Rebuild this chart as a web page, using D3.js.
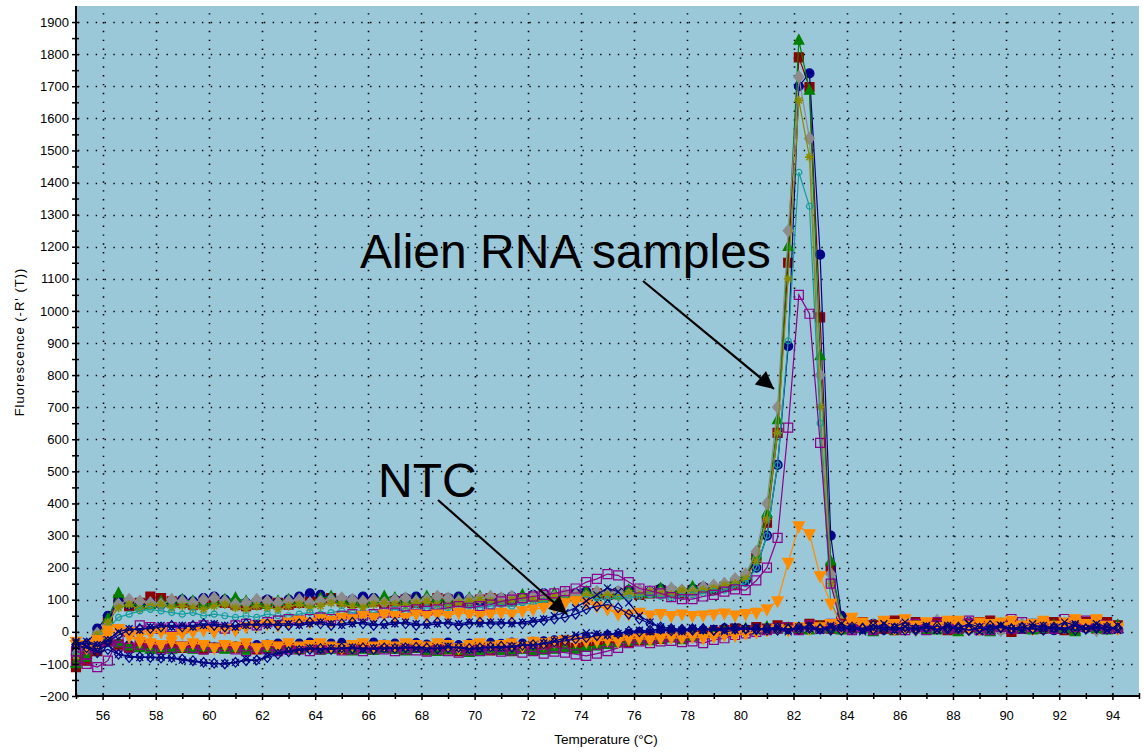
<!DOCTYPE html>
<html>
<head>
<meta charset="utf-8">
<script src="https://cdn.jsdelivr.net/npm/d3@7"></script>
<style>
  html, body { margin: 0; padding: 0; background: #fff; }
  svg { display: block; font-family: "Liberation Sans", Arial, sans-serif; }
</style>
</head>
<body>
<svg id="chart" width="1144" height="752"></svg>
<script>
// melt temperatures (°C), one reading every 0.4 degree
const temps = [
  55.0,55.4,55.8,56.2,56.6,57.0,57.4,57.8,58.2,58.6,
  59.0,59.4,59.8,60.2,60.6,61.0,61.4,61.8,62.2,62.6,
  63.0,63.4,63.8,64.2,64.6,65.0,65.4,65.8,66.2,66.6,
  67.0,67.4,67.8,68.2,68.6,69.0,69.4,69.8,70.2,70.6,
  71.0,71.4,71.8,72.2,72.6,73.0,73.4,73.8,74.2,74.6,
  75.0,75.4,75.8,76.2,76.6,77.0,77.4,77.8,78.2,78.6,
  79.0,79.4,79.8,80.2,80.6,81.0,81.4,81.8,82.2,82.6,
  83.0,83.4,83.8,84.2,84.6,85.0,85.4,85.8,86.2,86.6,
  87.0,87.4,87.8,88.2,88.6,89.0,89.4,89.8,90.2,90.6,
  91.0,91.4,91.8,92.2,92.6,93.0,93.4,93.8,94.2
];

// Alien RNA samples
const sampleRed = [
  -85,-60,-15,30,100,80,90,110,105,95,
  90,85,95,100,90,85,80,85,95,90,
  85,90,95,100,105,95,90,100,95,90,
  95,100,90,95,105,100,95,90,100,105,
  100,95,105,110,100,105,110,115,110,120,
  115,120,125,115,120,130,125,120,130,135,
  130,140,150,170,230,340,620,1150,1790,1697,
  980,200,40,15,20,10,25,5,15,30,
  10,20,5,25,15,30,10,20,0,15,
  25,10,20,5,15,30,10,20,15
];
const sampleNavy = [
  -60,-40,10,50,95,85,80,90,85,90,
  100,95,105,110,100,95,90,95,100,90,
  100,110,120,115,105,95,100,110,105,95,
  100,105,110,100,95,105,110,100,95,100,
  105,110,100,115,120,110,115,120,125,115,
  120,125,130,120,125,135,130,125,135,140,
  135,145,155,160,200,300,520,890,1700,1740,
  1175,300,50,20,10,25,15,5,20,10,
  25,15,10,20,30,5,15,25,10,20,
  15,25,5,20,10,15,30,10,20
];
const sampleGreen = [
  -95,-70,-25,40,120,90,80,85,95,90,
  100,95,85,90,100,105,95,90,85,95,
  100,95,90,105,110,100,95,90,100,110,
  105,95,100,110,105,95,100,105,110,100,
  95,105,115,110,105,120,115,110,125,120,
  125,115,130,125,120,135,130,125,140,135,
  140,150,160,175,240,370,660,1200,1843,1687,
  860,220,35,10,20,5,15,25,10,20,
  15,5,25,10,20,15,0,25,15,10,
  20,10,25,15,5,20,10,25,15
];
const sampleGray = [
  -70,-40,-5,20,85,100,95,90,85,100,
  95,90,100,105,95,85,90,100,95,90,
  95,100,90,95,100,105,100,95,100,90,
  100,105,95,100,110,105,95,100,105,110,
  105,110,100,110,115,110,120,115,110,125,
  120,125,115,130,125,120,135,130,125,140,
  145,150,165,180,250,400,700,1250,1729,1537,
  800,180,30,15,10,20,25,10,15,5,
  20,35,10,15,25,10,20,5,15,25,
  10,20,15,25,10,15,5,20,10
];
const sampleOlive = [
  -75,-50,-10,30,75,85,70,80,85,75,
  80,75,70,80,85,75,70,80,75,70,
  80,85,75,80,90,85,80,75,85,90,
  85,80,90,95,85,80,90,95,100,95,
  90,100,105,100,95,110,105,100,115,110,
  115,110,120,115,125,120,115,130,125,130,
  135,145,150,165,220,350,620,1100,1656,1479,
  700,150,30,10,15,25,10,20,15,5,
  10,25,15,20,5,15,25,10,20,15,
  5,20,10,15,25,10,20,15,10
];
const sampleTeal = [
  -70,-50,-20,10,45,55,65,70,65,60,
  55,60,50,55,50,45,50,45,55,50,
  50,55,60,55,60,65,60,55,60,65,
  70,65,70,75,70,75,70,80,75,80,
  85,80,90,85,95,90,100,95,100,105,
  100,110,105,110,115,110,105,110,115,120,
  125,130,140,150,200,300,520,907,1432,1326,
  650,91,25,10,15,5,20,10,15,25,
  10,15,5,20,10,25,15,10,20,5,
  15,10,20,5,15,10,25,15,10
];
const samplePurple = [
  -90,-100,-110,-90,-20,0,20,15,10,15,
  10,15,20,15,10,20,25,20,30,35,
  40,35,40,45,40,50,55,50,55,60,
  60,65,70,65,70,75,80,75,80,85,
  95,100,105,110,115,120,127,135,155,165,
  180,176,155,135,128,120,108,102,102,110,
  115,125,132,130,160,200,293,636,1050,991,
  589,150,20,10,15,5,25,10,20,15,
  5,20,15,10,25,15,5,20,10,30,
  15,20,10,25,15,35,20,10,15
];

// NTC and other low traces
const ntcOrange = [
  -30,-40,-25,5,10,0,-10,-5,0,-15,
  -5,0,5,0,10,5,15,20,25,20,
  30,35,30,40,35,45,40,50,45,55,
  50,45,55,50,55,50,60,55,50,55,
  60,55,65,70,75,80,90,96,90,80,
  71,55,55,60,52,56,50,55,50,52,
  55,58,52,56,60,71,96,216,330,305,
  174,88,20,45,30,15,25,10,40,20,
  30,15,35,20,10,30,25,15,35,20,
  10,25,15,30,40,20,35,15,10
];
const ntcCross = [
  -35,-30,-40,-25,0,10,5,15,20,15,
  20,15,20,25,20,15,20,25,20,25,
  25,20,25,30,25,20,25,30,25,20,
  25,30,25,20,25,30,25,30,25,30,
  30,25,30,35,40,50,60,75,96,115,
  137,125,90,50,30,15,10,5,12,5,
  10,5,15,10,5,10,15,5,10,20,
  5,15,25,10,5,20,10,15,30,10,
  15,5,20,10,25,15,5,20,10,15,
  25,10,15,30,20,10,25,15,5
];
const ntcDiamond = [
  -40,-35,-45,-30,-10,5,10,10,15,20,
  15,20,25,20,15,20,25,20,25,20,
  20,25,30,25,20,25,30,25,20,25,
  30,25,20,25,30,25,20,25,30,25,
  25,30,25,30,35,40,45,55,70,80,
  85,75,55,40,25,15,10,8,5,10,
  5,10,12,8,10,5,12,8,15,10,
  8,12,5,15,10,8,15,12,5,10,
  12,8,15,10,5,12,8,15,10,12,
  8,15,10,12,5,10,15,8,12
];
const lowCross = [
  -30,-45,-60,-40,-70,-75,-80,-78,-80,-82,
  -88,-92,-97,-100,-98,-95,-85,-90,-75,-65,
  -60,-55,-50,-55,-50,-52,-48,-55,-50,-52,
  -50,-48,-52,-55,-50,-45,-50,-55,-52,-48,
  -50,-45,-40,-42,-35,-28,-20,-10,-3,-5,
  -10,-5,0,5,0,10,5,0,10,5,
  10,0,5,10,15,5,10,0,15,10,
  5,20,10,15,0,10,25,5,15,10,
  20,5,15,10,25,0,15,20,10,5,
  15,20,10,5,25,10,15,5,20
];
const lowDiamond = [
  -40,-50,-65,-55,-70,-80,-78,-80,-82,-80,
  -85,-90,-95,-98,-100,-95,-90,-88,-80,-70,
  -62,-58,-55,-52,-55,-50,-53,-50,-55,-50,
  -52,-50,-48,-50,-53,-50,-48,-52,-50,-47,
  -45,-48,-42,-40,-38,-32,-28,-22,-18,-12,
  -8,-5,2,0,5,8,3,6,10,8,
  5,12,8,10,6,12,5,10,8,15,
  10,5,15,8,12,20,6,10,15,5,
  12,18,8,15,5,10,20,12,8,15,
  10,5,15,12,18,8,10,15,12
];
const lowNavy = [
  -50,-60,-40,-25,-35,-40,-45,-50,-42,-45,
  -50,-45,-42,-48,-50,-44,-46,-40,-38,-35,
  -38,-35,-32,-38,-35,-33,-40,-36,-32,-38,
  -35,-40,-33,-38,-36,-32,-40,-35,-38,-33,
  -36,-32,-35,-30,-28,-25,-24,-20,-15,-18,
  -10,-12,-5,0,-3,2,5,3,8,5,
  8,12,10,6,12,8,15,10,6,12,
  8,12,5,15,8,12,5,10,15,12,
  6,10,14,15,6,10,12,4,10,15,
  12,6,10,15,12,10,6,12,10
];
const lowOrange = [
  -40,-50,-35,-10,10,-15,-30,-35,-40,-30,
  -45,-35,-40,-50,-40,-45,-35,-50,-40,-45,
  -35,-45,-40,-35,-45,-50,-40,-35,-45,-40,
  -45,-35,-40,-45,-35,-40,-50,-40,-35,-45,
  -40,-35,-45,-30,-35,-30,-25,-28,-30,-28,
  -25,-30,-22,-20,-25,-20,-18,-20,-15,-20,
  -15,-10,-12,-5,0,5,10,5,15,10,
  15,25,10,30,20,15,35,25,10,20,
  30,15,25,35,20,10,25,30,15,20,
  25,35,20,15,30,25,40,20,15
];
const lowPurple = [
  -60,-70,-50,-30,-45,-50,-40,-45,-55,-50,
  -45,-50,-55,-50,-45,-55,-60,-50,-55,-60,
  -55,-50,-60,-55,-50,-58,-55,-60,-52,-55,
  -60,-55,-58,-62,-55,-60,-65,-58,-60,-55,
  -62,-58,-65,-60,-68,-62,-65,-70,-75,-68,
  -60,-50,-35,-30,-35,-30,-28,-32,-30,-35,
  -25,-20,-10,-5,0,5,10,15,5,20,
  10,25,15,5,20,10,30,15,5,25,
  15,30,10,20,35,5,25,15,40,10,
  20,30,10,40,35,15,25,20,10
];
const lowGreen = [
  -100,-80,-50,-20,-35,-45,-50,-55,-50,-55,
  -50,-55,-48,-52,-55,-50,-58,-52,-50,-55,
  -52,-55,-50,-58,-55,-52,-60,-55,-58,-52,
  -55,-60,-52,-58,-62,-55,-58,-65,-60,-55,
  -58,-62,-55,-60,-58,-55,-50,-55,-48,-45,
  -40,-35,-30,-25,-28,-22,-20,-25,-15,-10,
  -5,0,5,10,5,15,8,12,10,5,
  15,10,5,20,10,0,15,5,10,20,
  5,15,10,0,20,10,5,15,20,10,
  5,15,20,10,0,15,10,5,20
];
const lowRed = [
  -110,-90,-60,-30,-40,-50,-45,-40,-50,-45,
  -50,-45,-55,-50,-45,-50,-48,-55,-50,-45,
  -50,-55,-48,-52,-50,-55,-50,-48,-55,-50,
  -52,-55,-50,-58,-52,-55,-60,-55,-52,-58,
  -55,-60,-52,-55,-50,-48,-45,-50,-42,-40,
  -35,-30,-32,-25,-20,-22,-15,-18,-10,-5,
  0,5,10,5,15,10,20,15,10,25,
  20,10,25,15,30,20,10,35,15,25,
  20,30,15,10,25,20,35,15,25,10,
  20,15,30,25,10,20,15,30,20
];

// axis ticks
const xTicks = [56,58,60,62,64,66,68,70,72,74,76,78,80,82,84,86,88,90,92,94];
const xMinor = [55,57,59,61,63,65,67,69,71,73,75,77,79,81,83,85,87,89,91,93,95];
const yTicks = [-200,-100,0,100,200,300,400,500,600,700,800,900,1000,1100,1200,1300,1400,1500,1600,1700,1800,1900];
const yMinor = [-150,-50,50,150,250,350,450,550,650,750,850,950,1050,1150,1250,1350,1450,1550,1650,1750,1850];

// marker shapes for d3.symbol (size = width in px)
const shapes = {
  square: {draw(c, w) { const r = w / 2; c.moveTo(-r, -r); c.lineTo(r, -r); c.lineTo(r, r); c.lineTo(-r, r); c.closePath(); }},
  circle: {draw(c, w) { const r = w / 2; c.moveTo(r, 0); c.arc(0, 0, r, 0, 2 * Math.PI); }},
  triUp: {draw(c, w) { const r = w / 2; c.moveTo(0, -r * 1.15); c.lineTo(r, r * 0.75); c.lineTo(-r, r * 0.75); c.closePath(); }},
  triDown: {draw(c, w) { const r = w / 2; c.moveTo(0, r * 1.15); c.lineTo(r, -r * 0.75); c.lineTo(-r, -r * 0.75); c.closePath(); }},
  diamond: {draw(c, w) { const r = w / 2; c.moveTo(0, -r * 1.2); c.lineTo(r, 0); c.lineTo(0, r * 1.2); c.lineTo(-r, 0); c.closePath(); }},
  times: {draw(c, w) { const r = w / 2; c.moveTo(-r, -r); c.lineTo(r, r); c.moveTo(r, -r); c.lineTo(-r, r); }},
  star: {draw(c, w) { const r = w / 2, d = r * 0.7; c.moveTo(-r, 0); c.lineTo(r, 0); c.moveTo(0, -r); c.lineTo(0, r); c.moveTo(-d, -d); c.lineTo(d, d); c.moveTo(d, -d); c.lineTo(-d, d); }}
};

const series = [
  {values: lowNavy,      color: "#00008b", shape: "circle",  size: 8,  fill: true},
  {values: sampleRed,    color: "#8b0000", shape: "square",  size: 9,  fill: true},
  {values: sampleNavy,   color: "#00008b", shape: "circle",  size: 9,  fill: true},
  {values: sampleGreen,  color: "#008000", shape: "triUp",   size: 10, fill: true},
  {values: sampleGray,   color: "#8c8c8c", shape: "diamond", size: 10, fill: true},
  {values: sampleOlive,  color: "#8b8b00", shape: "star",    size: 9,  fill: false},
  {values: sampleTeal,   color: "#169c9c", shape: "circle",  size: 6,  fill: false},
  {values: lowRed,       color: "#8b0000", shape: "square",  size: 9,  fill: true},
  {values: lowGreen,     color: "#008000", shape: "triUp",   size: 10, fill: true},
  {values: lowPurple,    color: "#8b008b", shape: "square",  size: 9,  fill: false},
  {values: samplePurple, color: "#8b008b", shape: "square",  size: 9,  fill: false},
  {values: lowOrange,    color: "#ff8c00", shape: "triDown", size: 11, fill: true},
  {values: ntcOrange,    color: "#ff8c00", shape: "triDown", size: 11, fill: true},
  {values: lowDiamond,   color: "#000080", shape: "diamond", size: 8,  fill: false},
  {values: lowCross,     color: "#000080", shape: "times",   size: 7,  fill: false},
  {values: ntcDiamond,   color: "#000080", shape: "diamond", size: 8,  fill: false},
  {values: ntcCross,     color: "#000080", shape: "times",   size: 7,  fill: false}
];

const svg = d3.select("#chart");
const pLeft = 76, pRight = 1139, pTop = 6, pBottom = 696;

const x = d3.scaleLinear().domain([55, 95]).range([pLeft, pRight]);
const y = d3.scaleLinear().domain([-200, 1950]).range([pBottom, pTop]);

svg.append("rect").attr("width", 1144).attr("height", 752).attr("fill", "#fff");
svg.append("rect")
  .attr("x", pLeft).attr("y", pTop)
  .attr("width", pRight - pLeft).attr("height", pBottom - pTop)
  .attr("fill", "#9bc8d8");

// dotted grid
const grid = svg.append("g").attr("stroke", "#000").attr("stroke-width", 1.6).attr("stroke-dasharray", "1.4,7.45");
grid.selectAll(".gy").data(yTicks.slice(1)).enter().append("line")
  .attr("x1", pLeft + 2).attr("x2", pRight)
  .attr("y1", d => Math.round(y(d)) + 0.5).attr("y2", d => Math.round(y(d)) + 0.5);
grid.selectAll(".gx").data(xTicks).enter().append("line")
  .attr("y1", pBottom).attr("y2", pTop)
  .attr("x1", d => Math.round(x(d)) + 0.5).attr("x2", d => Math.round(x(d)) + 0.5);

// curves
const plot = svg.append("g");
const line = d3.line().x((d, i) => x(temps[i])).y(d => y(d));

series.forEach(s => {
  const g = plot.append("g");
  g.append("path")
    .datum(s.values)
    .attr("d", line)
    .attr("fill", "none")
    .attr("stroke", s.color)
    .attr("stroke-width", 1.2);
  const sym = d3.symbol().type(shapes[s.shape]).size(s.size);
  g.selectAll("path.m").data(s.values).enter().append("path")
    .attr("class", "m")
    .attr("transform", (d, i) => `translate(${x(temps[i])},${y(d)})`)
    .attr("d", sym)
    .attr("fill", s.fill ? s.color : "none")
    .attr("stroke", s.color)
    .attr("stroke-width", s.shape === "star" ? 1.6 : 1.2);
});

// axes
const fontAxis = "13px";
const yAxis = svg.append("g").attr("transform", `translate(${pLeft},0)`)
  .call(d3.axisLeft(y).tickValues(yTicks).tickFormat(d3.format("d")).tickSize(4).tickPadding(3));
yAxis.select(".domain").remove();
yAxis.selectAll(".tick line").attr("x2", -4).attr("x1", 3).attr("stroke-width", 1.5);
yAxis.selectAll("text").attr("font-size", fontAxis).attr("fill", "#000").attr("font-family", "Liberation Sans, Arial, sans-serif");

const yAxisMinor = svg.append("g").attr("transform", `translate(${pLeft},0)`)
  .call(d3.axisLeft(y).tickValues(yMinor).tickSize(4).tickFormat(""));
yAxisMinor.select(".domain").remove();
yAxisMinor.selectAll(".tick line").attr("x2", -4).attr("x1", 3).attr("stroke-width", 1.5);

const xAxis = svg.append("g").attr("transform", `translate(0,${pBottom})`)
  .call(d3.axisBottom(x).tickValues(xTicks).tickFormat(d3.format("d")).tickSize(4).tickPadding(11));
xAxis.select(".domain").remove();
xAxis.selectAll(".tick line").attr("y1", -3).attr("y2", 4).attr("stroke-width", 1.5);
xAxis.selectAll("text").attr("font-size", fontAxis).attr("fill", "#000").attr("font-family", "Liberation Sans, Arial, sans-serif");

const xAxisMinor = svg.append("g").attr("transform", `translate(0,${pBottom})`)
  .call(d3.axisBottom(x).tickValues(xMinor).tickSize(4).tickFormat(""));
xAxisMinor.select(".domain").remove();
xAxisMinor.selectAll(".tick line").attr("y1", -3).attr("y2", 3).attr("stroke-width", 1.5);

svg.append("line").attr("x1", pLeft).attr("x2", pLeft).attr("y1", pTop).attr("y2", pBottom + 1)
  .attr("stroke", "#000").attr("stroke-width", 2);
svg.append("line").attr("x1", pLeft - 1).attr("x2", pRight).attr("y1", pBottom).attr("y2", pBottom)
  .attr("stroke", "#000").attr("stroke-width", 2);

// axis titles
svg.append("text")
  .attr("x", 606).attr("y", 744)
  .attr("text-anchor", "middle").attr("font-size", "13.5px")
  .text("Temperature (°C)");
svg.append("text")
  .attr("transform", "translate(24,342) rotate(-90)")
  .attr("text-anchor", "middle").attr("font-size", "13px")
  .attr("letter-spacing", "1px")
  .text("Fluorescence (-R' (T))");

// annotations
const defs = svg.append("defs");
defs.append("marker")
  .attr("id", "head").attr("viewBox", "0 0 10 10")
  .attr("refX", 10).attr("refY", 5)
  .attr("markerWidth", 10).attr("markerHeight", 8)
  .attr("markerUnits", "strokeWidth")
  .attr("orient", "auto")
  .append("path").attr("d", "M0,0 L10,5 L0,10 Z").attr("fill", "#000");

const notes = svg.append("g").attr("font-size", "48px").attr("fill", "#000");
notes.append("text").attr("x", 360).attr("y", 268).text("Alien RNA samples");
notes.append("text").attr("x", 378).attr("y", 497).text("NTC");

svg.append("line")
  .attr("x1", 643).attr("y1", 281).attr("x2", 774).attr("y2", 389)
  .attr("stroke", "#000").attr("stroke-width", 2.2).attr("marker-end", "url(#head)");
svg.append("line")
  .attr("x1", 438).attr("y1", 500).attr("x2", 567).attr("y2", 614)
  .attr("stroke", "#000").attr("stroke-width", 2.2).attr("marker-end", "url(#head)");
</script>
</body>
</html>
